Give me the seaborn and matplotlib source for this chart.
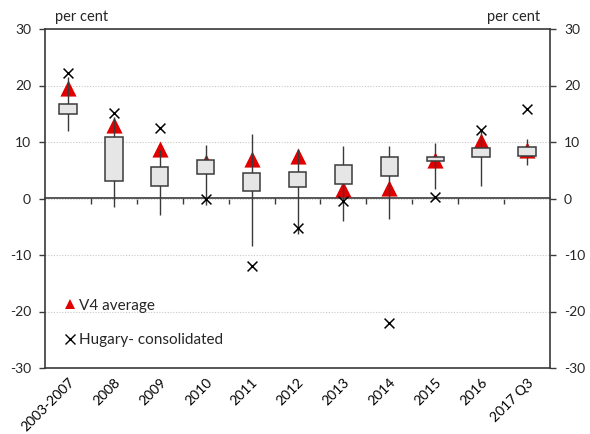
import numpy as np
import matplotlib
matplotlib.use("Agg")
import matplotlib.pyplot as plt
from matplotlib.lines import Line2D
import seaborn as sns

categories = ["2003-2007", "2008", "2009", "2010", "2011", "2012",
              "2013", "2014", "2015", "2016", "2017 Q3"]
box_low = [15.0, 3.1, 2.3, 4.4, 1.4, 2.0, 2.5, 3.9, 6.7, 7.4, 7.6]
box_high = [16.8, 10.8, 5.6, 6.9, 4.6, 4.7, 6.0, 7.3, 7.4, 8.9, 9.2]
whisker_low = [12.0, -1.5, -3.0, -1.2, -8.4, -6.2, -4.0, -3.6, 1.6, 2.2, 6.0]
whisker_high = [21.5, 14.5, 8.5, 9.4, 11.4, 8.7, 9.3, 9.3, 9.9, 12.0, 10.6]
v4_average = [19.5, 13.0, 8.8, 6.4, 7.0, 7.6, 1.6, 1.9, 6.8, 10.2, 8.6]
hungary = [22.3, 15.1, 12.5, 0.0, -12.0, -5.2, -0.5, -22.1, 0.2, 12.1, 15.8]
y_ticks = [-30, -20, -10, 0, 10, 20, 30]

sns.set_style("white")
plt.rcParams["font.family"] = ["Lato", "DejaVu Sans"]

RED = "#e00000"
DARK = "#3a3a3a"

fig = plt.figure(figsize=(5.9, 4.34), dpi=100)
ax = fig.add_axes([45 / 590, 1 - 368 / 434, 505 / 590, 339 / 434])

x = np.arange(len(categories))

# V4 average triangles (bottom layer)
sns.scatterplot(x=x, y=v4_average, marker="^", s=135, color=RED,
                linewidth=0, ax=ax, zorder=2, legend=False)

# whiskers
ax.vlines(x, whisker_low, whisker_high, color=DARK, linewidth=1.0, zorder=3)

# boxes
heights = np.array(box_high) - np.array(box_low)
ax.bar(x, heights, bottom=box_low, width=0.38, color="#e6e6e6",
       edgecolor=DARK, linewidth=1.1, zorder=4)

# Hungary crosses
sns.scatterplot(x=x, y=hungary, marker="x", s=50, color="black",
                linewidth=1.1, ax=ax, zorder=5, legend=False)

ax.set_xlim(-0.5, len(categories) - 0.5)
ax.set_ylim(-30, 30)
ax.set_yticks(y_ticks)
ax.set_yticklabels([str(v) for v in y_ticks])
ax.set_xticks(x)
ax.set_xticklabels(categories, rotation=45, ha="right", va="top",
                   rotation_mode="anchor")
ax.tick_params(axis="x", length=0, pad=6, labelsize=10, colors="black")
ax.tick_params(axis="y", direction="out", length=4, width=1, color=DARK,
               left=True, right=True, labelleft=True, labelright=True,
               labelsize=10, pad=6)
ax.set_xlabel("")
ax.set_ylabel("")

ax.yaxis.grid(True, linestyle=(0, (1, 1.5)), color="#c8c8c8", linewidth=0.8)
ax.set_axisbelow(True)

for side in ["left", "right", "top", "bottom"]:
    ax.spines[side].set_visible(True)
    ax.spines[side].set_color(DARK)
    ax.spines[side].set_linewidth(1.2)

# zero line axis with category boundary ticks (pointing down)
zero_ax = ax.secondary_xaxis(0.5)
zero_ax.set_xticks(x[:-1] + 0.5)
zero_ax.set_xticklabels([])
zero_ax.tick_params(direction="in", length=4, width=1, color=DARK)
for sp in zero_ax.spines.values():
    sp.set_color(DARK)
    sp.set_linewidth(1.2)

ax.text(0.02, 1.015, "per cent", transform=ax.transAxes, ha="left",
        va="bottom", fontsize=10.5)
ax.text(0.98, 1.015, "per cent", transform=ax.transAxes, ha="right",
        va="bottom", fontsize=10.5)

handles = [
    Line2D([], [], marker="^", linestyle="none", color=RED,
           markersize=7, markeredgewidth=0),
    Line2D([], [], marker="x", linestyle="none", color="black",
           markersize=7, markeredgewidth=1.0),
]
ax.legend(handles, ["V4 average", "Hugary- consolidated"],
          loc="upper left", bbox_to_anchor=(0.035, 0.205), frameon=False,
          fontsize=11, handlelength=0.9, handletextpad=0.2,
          labelspacing=1.35, borderpad=0, borderaxespad=0)

fig.savefig("out.png", dpi=100)
